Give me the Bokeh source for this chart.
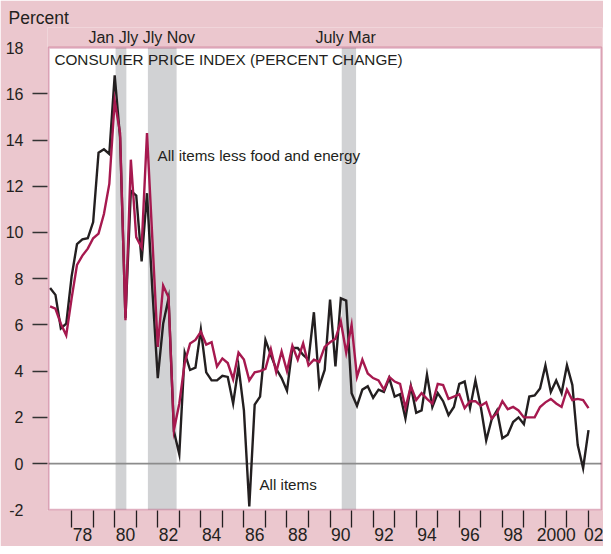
import numpy as np
from bokeh.plotting import figure
from bokeh.models import Range1d, FixedTicker, BoxAnnotation, Label, LinearAxis
from bokeh.embed import file_html
from bokeh.resources import INLINE

# ---------------- data (quarterly, annualized percent change) ----------------
start_year = 1977  # first quarter: 1977 Q1

all_items = [
    7.6, 7.3, 5.85, 6.05,      # 1977
    8.1, 9.5, 9.7, 9.75,       # 1978
    10.45, 13.45, 13.6, 13.4,  # 1979
    16.8, 14.1, 6.3, 11.8,     # 1980
    11.6, 8.75, 11.7, 7.5,     # 1981
    3.7, 6.05, 7.15, 1.4,      # 1982
    0.4, 4.8, 4.05, 4.15,      # 1983
    5.8, 3.95, 3.6, 3.6,       # 1984
    3.8, 3.75, 2.6, 4.2,       # 1985
    2.3, -1.85, 2.55, 2.9,     # 1986
    5.35, 4.7, 4.1, 3.7,       # 1987
    3.15, 5.0, 5.0, 4.7,       # 1988
    4.5, 6.55, 3.35, 4.05,     # 1989
    7.1, 4.2, 7.15, 7.05,      # 1990
    3.05, 2.5, 3.2, 3.35,      # 1991
    2.85, 3.2, 3.1, 3.7,       # 1992
    2.9, 3.0, 1.95, 3.35,      # 1993
    2.2, 2.3, 3.85, 2.45,      # 1994
    3.05, 2.7, 2.1, 2.45,      # 1995
    3.45, 3.55, 2.4, 3.6,      # 1996
    2.45, 1.0, 1.9, 2.3,       # 1997
    1.1, 1.25, 1.8, 2.0,       # 1998
    1.7, 2.9, 2.95, 3.25,      # 1999
    4.25, 3.1, 3.6, 3.05,      # 2000
    4.25, 3.4, 0.8, -0.2,      # 2001
    1.45,                      # 2002
]

less_food_energy = [
    6.8, 6.7, 6.05, 5.55,      # 1977
    7.15, 8.6, 9.0, 9.3,       # 1978
    9.75, 9.95, 10.8, 12.1,    # 1979
    15.7, 14.3, 6.2, 13.15,    # 1980
    9.8, 9.35, 14.3, 9.7,      # 1981
    5.05, 7.7, 7.2, 1.45,      # 1982
    2.6, 4.35, 5.2, 5.35,      # 1983
    5.7, 5.15, 5.25, 4.2,      # 1984
    4.55, 4.35, 3.65, 4.8,     # 1985
    4.5, 3.6, 3.95, 4.0,       # 1986
    4.1, 4.95, 3.95, 4.85,     # 1987
    4.0, 5.1, 4.5, 5.2,        # 1988
    4.25, 4.5, 4.4, 5.05,      # 1989
    5.25, 5.4, 6.15, 4.8,      # 1990
    6.0, 3.75, 4.5, 3.9,       # 1991
    3.7, 3.6, 3.2, 3.75,       # 1992
    3.55, 3.45, 2.4, 3.35,     # 1993
    2.75, 3.05, 2.8, 2.6,      # 1994
    3.45, 3.4, 2.8, 2.9,       # 1995
    3.0, 2.4, 2.7, 2.7,        # 1996
    2.5, 2.65, 1.95, 2.2,      # 1997
    2.7, 2.35, 2.45, 2.3,      # 1998
    2.0, 2.0, 2.0, 2.45,       # 1999
    2.65, 2.8, 2.6, 2.45,      # 2000
    3.2, 2.75, 2.8, 2.75,      # 2001
    2.4,                       # 2002
]

# recessions (year, month): Jan 1980-Jly 1980, Jly 1981-Nov 1982, July 1990-Mar 1991
recession_start = [(1980, 1), (1981, 7), (1990, 7)]
recession_end = [(1980, 7), (1982, 11), (1991, 3)]
recession_text_1 = "Jan Jly Jly Nov"
recession_text_2 = "July Mar"

x_label_years = [1978, 1980, 1982, 1984, 1986, 1988, 1990, 1992, 1994, 1996, 1998, 2000, 2002]
x_label_texts = ["78", "80", "82", "84", "86", "88", "90", "92", "94", "96", "98", "2000", "02"]
year_ticks = list(range(1978, 2003))
y_ticks = [-2, 0, 2, 4, 6, 8, 10, 12, 14, 16, 18]
y_tick_marks = [0, 2, 4, 6, 8, 10, 12, 14, 16]

# plotting box (data extents of the white panel)
X0, X1 = 1976.93, 2002.60
Y0, Y1 = -2, 18

# ---------------- style ----------------
FONT = "Liberation Sans"
PINK = "#ebc7ce"
CRIMSON = "#a4174c"
MAGENTA = "#a6194f"
INK = "#231f20"
BAND = "#d1d2d4"

xs = start_year + np.arange(len(all_items)) / 4.0

p = figure(width=603, height=546,
           x_range=Range1d(X0 - 0.05, X1 + 0.05), y_range=Range1d(Y0 - 0.03, 18.87),
           x_axis_type=None, y_axis_type=None,
           output_backend="svg", toolbar_location=None,
           min_border_left=47, min_border_right=1,
           min_border_top=27, min_border_bottom=36)
p.border_fill_color = PINK
p.background_fill_color = PINK
p.outline_line_color = None
p.grid.visible = False

# "Percent" unit label above the y axis
p.title.text = "Percent"
p.title.align = "left"
p.title.offset = -39
p.title.standoff = 0
p.title.text_font = FONT
p.title.text_font_size = "17.5px"
p.title.text_font_style = "normal"
p.title.text_color = INK

# white plotting panel
p.add_layout(BoxAnnotation(left=X0, right=X1, bottom=Y0, top=Y1,
                           fill_color="white", fill_alpha=1.0, line_color=None,
                           level="underlay"))

# recession bands
for (ys, ms), (ye, me) in zip(recession_start, recession_end):
    p.add_layout(BoxAnnotation(left=ys + (ms - 0.5) / 12.0, right=ye + (me - 0.5) / 12.0,
                               bottom=Y0, top=Y1,
                               fill_color=BAND, fill_alpha=1.0, line_color=None,
                               level="underlay"))

# zero line
p.line([X0, X1], [0, 0], line_color="#8c8c8c", line_width=1.6)

# series
p.line(xs, all_items, line_color=INK, line_width=2.4, line_join="miter")
p.line(xs, less_food_energy, line_color=MAGENTA, line_width=2.4, line_join="miter")

# panel border
p.add_layout(BoxAnnotation(left=X0, right=X1, bottom=Y0, top=Y1,
                           fill_alpha=0, line_color=CRIMSON, line_width=2.2,
                           level="overlay"))

# x axis: ticks at year boundaries (minor), labels centred in the year (major)
xaxis = LinearAxis(
    ticker=FixedTicker(ticks=[y + 0.5 for y in x_label_years], minor_ticks=year_ticks),
    major_label_overrides={y + 0.5: t for y, t in zip(x_label_years, x_label_texts)},
    axis_line_color=None,
    major_tick_out=0, major_tick_in=0,
    minor_tick_out=17, minor_tick_in=0,
    minor_tick_line_color=INK, minor_tick_line_width=1.3,
    major_label_standoff=0,
    major_label_text_font=FONT, major_label_text_font_size="17.5px",
    major_label_text_color=INK,
)
p.add_layout(xaxis, "below")

yaxis = LinearAxis(
    ticker=FixedTicker(ticks=y_ticks, minor_ticks=y_tick_marks),
    major_label_overrides={v: str(v) for v in y_ticks},
    axis_line_color=None,
    major_tick_out=0, major_tick_in=0,
    minor_tick_out=15, minor_tick_in=0,
    minor_tick_line_color="#333333", minor_tick_line_width=1.3,
    major_label_standoff=9,
    major_label_text_font=FONT, major_label_text_font_size="16px",
    major_label_text_color=INK,
)
p.add_layout(yaxis, "left")

# texts (anchored at their vertical middle)
def add_text(x, y, text, size):
    p.add_layout(Label(x=x, y=y, text=text, text_font=FONT, text_font_size=size,
                       text_color=INK, text_align="left", text_baseline="middle"))

add_text(1978.78, 18.43, recession_text_1, "16px")
add_text(1989.32, 18.43, recession_text_2, "16px")
add_text(1977.20, 17.48, "CONSUMER PRICE INDEX (PERCENT CHANGE)", "15.3px")
add_text(1981.99, 13.34, "All items less food and energy", "15.2px")
add_text(1986.72, -0.91, "All items", "15.2px")

open("out.html", "w").write(file_html(p, INLINE))
